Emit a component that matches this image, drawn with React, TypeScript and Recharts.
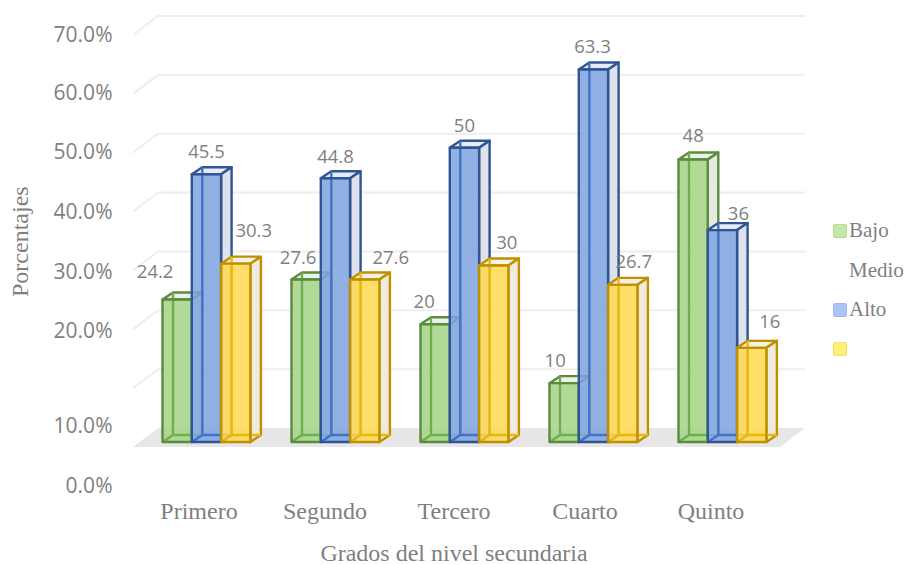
import React from "react";
import { BarChart, Bar, XAxis, YAxis, CartesianGrid, Legend, LabelList } from "recharts";

const categories = ["Primero", "Segundo", "Tercero", "Cuarto", "Quinto"];
const bajo = [24.2, 27.6, 20, 10, 48];
const alto = [45.5, 44.8, 50, 63.3, 36];
const tercera = [30.3, 27.6, 30, 26.7, 16];
const yTicks = [0, 10, 20, 30, 40, 50, 60, 70];

const data = categories.map((name, i) => ({ name, bajo: bajo[i], alto: alto[i], tercera: tercera[i] }));

const GREY = "#7f7f7f";
const SERIF = "'Liberation Serif', serif";
const SANS = "'Open Sans', sans-serif";
const DX = 10.5;
const DY = 7;

const tickShift: Record<number, number> = { 70: 4, 60: 3, 50: 3.5, 40: 4, 30: 6, 20: 6, 10: 42, 0: 43 };
const categoryShift = [-7, -10, -10, -8, -11];
const bajoLabelShift = [[-22, -29], [-8, -23], [-11, -24], [-9, -24], [0, -25]];
const altoLabelShift = [[0, -24], [0, -23], [0, -23], [-1, -24], [16, -18]];
const terceraLabelShift = [[18, -34], [26, -23], [13, -24], [11, -24], [18, -27]];

const palette = {
  green: { face: "#a3d384", line: "#5a8c3c", inner: "#6fae50", side: "#e4e8de", top: "#eef0ea" },
  blue: { face: "#7ea3e0", line: "#2f5597", inner: "#4472c4", side: "#dde0ea", top: "#e8ebf3" },
  yellow: { face: "#ffd84f", line: "#bf9000", inner: "#e8b90c", side: "#efeadd", top: "#f5f1e6" },
};

const box = (c: typeof palette.green) => (p: any) => {
  const { x, y, width: w, height: h } = p;
  const b = y + h;
  return (
    <g>
      <path d={`M${x} ${y}L${x + DX} ${y - DY}H${x + w + DX}L${x + w} ${y}Z`} fill={c.top} stroke={c.line} strokeWidth={2.4} strokeLinejoin="round" />
      <path d={`M${x + w} ${y}L${x + w + DX} ${y - DY}V${b - DY}L${x + w} ${b}Z`} fill={c.side} fillOpacity={0.95} stroke={c.line} strokeWidth={2.4} strokeLinejoin="round" />
      <rect x={x} y={y} width={w} height={h} fill={c.face} fillOpacity={0.85} />
      <path d={`M${x + DX} ${y - DY}V${b - DY}M${x} ${b}L${x + DX} ${b - DY}H${x + w + DX}`} fill="none" stroke={c.inner} strokeWidth={2.4} />
      <rect x={x} y={y} width={w} height={h} fill="none" stroke={c.line} strokeWidth={2.4} strokeLinejoin="round" />
    </g>
  );
};

const barLabel = (shift: number[][]) => (p: any) => (
  <text
    x={p.x + p.width / 2 + shift[p.index][0]}
    y={p.y + shift[p.index][1]}
    textAnchor="middle"
    dominantBaseline="central"
    fontFamily={SANS}
    fontSize={18.5}
    fill={GREY}
  >
    {p.value}
  </text>
);

const YTick = (p: any) => (
  <text x={p.x - 27} y={p.y + tickShift[p.payload.value]} textAnchor="end" dominantBaseline="central" fontFamily={SANS} fontSize={21} fill={GREY}>
    {p.payload.value.toFixed(1)}%
  </text>
);

const XTick = (p: any) => (
  <text x={p.x + categoryShift[p.index]} y={p.y + 63} textAnchor="middle" dominantBaseline="central" fontFamily={SERIF} fontSize={24} fill={GREY}>
    {p.payload.value}
  </text>
);

const gridLine = (p: any) => {
  const { x1, x2, y1, index } = p;
  if (index === 0 || y1 > 440) {
    return (
      <path key={`floor-${y1}`} d={`M${x1 - 8.5} ${y1 + 5}L${x1 + 16.5} ${y1 - 14}H${x2 + 18.5}L${x2 - 6.5} ${y1 + 5}Z`} fill="#e7e7e7" stroke="none" />
    );
  }
  return (
    <path key={`grid-${y1}`} d={`M${x1 - 8.5} ${y1 + 5}L${x1 + 16.5} ${y1 - 14}H${x2 + 18.5}`} fill="none" stroke="#eeeeee" strokeWidth={2} />
  );
};

const legendRows = [
  { label: "Bajo", fill: "#c5e8a8", border: "#b2dc94" },
  { label: "Medio", fill: "none", border: "none" },
  { label: "Alto", fill: "#a9c4f5", border: "#9db8e8" },
  { label: "", fill: "#fff176", border: "#f5de6a" },
];

const LegendBox = () => (
  <div style={{ fontFamily: SERIF, fontSize: 21, color: GREY }}>
    {legendRows.map((r) => (
      <div key={r.label || "blank"} style={{ height: 39.5, display: "flex", alignItems: "center" }}>
        <span
          style={{
            display: "inline-block",
            boxSizing: "border-box",
            width: 14,
            height: 14,
            marginRight: 2,
            borderRadius: 2,
            background: r.fill === "none" ? "transparent" : r.fill,
            border: r.border === "none" ? "none" : `1.5px solid ${r.border}`,
          }}
        />
        <span>{r.label}</span>
      </div>
    ))}
  </div>
);

export default function App() {
  return (
    <div style={{ position: "absolute", left: 0, top: 0, width: 907, height: 565, background: "#fff" }}>
      <BarChart
        width={907}
        height={565}
        data={data}
        margin={{ top: 30, right: 120.5, bottom: 0, left: 0 }}
        barSize={29.3}
        barGap={0}
      >
        <CartesianGrid vertical={false} horizontal={gridLine} />
        <XAxis
          dataKey="name"
          height={123}
          axisLine={false}
          tickLine={false}
          interval={0}
          tickMargin={0}
          tick={<XTick />}
          label={{ value: "Grados del nivel secundaria", position: "insideBottom", offset: 4, dx: -10, fontFamily: SERIF, fontSize: 24, fill: GREY }}
        />
        <YAxis
          width={141.5}
          domain={[0, 70]}
          ticks={yTicks}
          interval={0}
          axisLine={false}
          tickLine={false}
          tickSize={0}
          tick={<YTick />}
          label={{ value: "Porcentajes", angle: -90, position: "insideLeft", dx: 14, dy: 61, fontFamily: SERIF, fontSize: 24, fill: GREY }}
        />
        <Legend
          layout="vertical"
          align="center"
          verticalAlign="middle"
          content={<LegendBox />}
          wrapperStyle={{ left: 833, top: 211, width: 74, right: "auto", bottom: "auto" }}
        />
        <Bar dataKey="bajo" name="Bajo" isAnimationActive={false} shape={box(palette.green)}>
          <LabelList dataKey="bajo" content={barLabel(bajoLabelShift)} />
        </Bar>
        <Bar dataKey="alto" name="Alto" isAnimationActive={false} shape={box(palette.blue)}>
          <LabelList dataKey="alto" content={barLabel(altoLabelShift)} />
        </Bar>
        <Bar dataKey="tercera" name="" isAnimationActive={false} shape={box(palette.yellow)}>
          <LabelList dataKey="tercera" content={barLabel(terceraLabelShift)} />
        </Bar>
      </BarChart>
    </div>
  );
}
